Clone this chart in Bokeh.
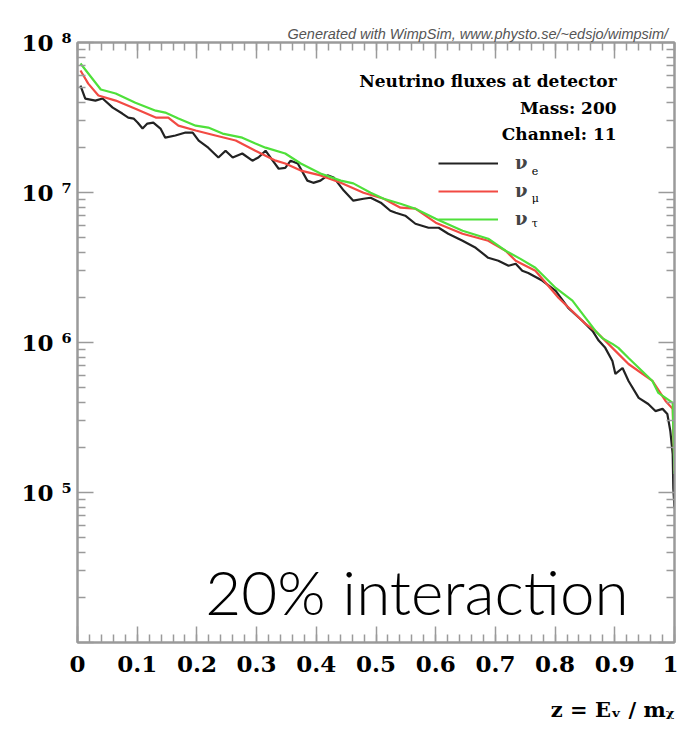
from bokeh.plotting import figure
from bokeh.models import (LinearAxis, LogAxis, FixedTicker, Label, Legend,
                          LegendItem, Range1d, Title)
from bokeh.embed import file_html
from bokeh.resources import INLINE

# WimpSim neutrino fluxes at the detector, mass 200, channel 11
z_e = [0.005, 0.013, 0.030, 0.042, 0.059, 0.075, 0.085, 0.094, 0.101, 0.109,
       0.117, 0.127, 0.139, 0.147, 0.164, 0.181, 0.193, 0.203, 0.219, 0.236,
       0.248, 0.260, 0.276, 0.293, 0.303, 0.315, 0.327, 0.337, 0.348, 0.357,
       0.369, 0.385, 0.395, 0.407, 0.419, 0.429, 0.446, 0.462, 0.479, 0.491,
       0.508, 0.524, 0.533, 0.549, 0.566, 0.588, 0.605, 0.621, 0.645, 0.667,
       0.688, 0.705, 0.722, 0.734, 0.745, 0.755, 0.779, 0.801, 0.822, 0.846,
       0.863, 0.873, 0.884, 0.896, 0.901, 0.913, 0.923, 0.940, 0.956, 0.968,
       0.980, 0.988, 0.993, 0.997, 0.998, 1.000]
flux_e = [5.16e7, 4.23e7, 4.10e7, 4.23e7, 3.68e7, 3.36e7, 3.16e7, 3.11e7, 2.92e7, 2.67e7,
          2.88e7, 2.92e7, 2.67e7, 2.32e7, 2.40e7, 2.51e7, 2.51e7, 2.22e7, 1.99e7, 1.71e7,
          1.90e7, 1.71e7, 1.82e7, 1.63e7, 1.71e7, 1.90e7, 1.63e7, 1.44e7, 1.46e7, 1.63e7,
          1.56e7, 1.20e7, 1.16e7, 1.20e7, 1.30e7, 1.26e7, 1.03e7, 8.82e6, 9.09e6, 9.23e6,
          8.55e6, 7.56e6, 7.33e6, 7.00e6, 6.19e6, 5.82e6, 5.82e6, 5.31e6, 4.77e6, 4.28e6,
          3.67e6, 3.51e6, 3.25e6, 3.35e6, 3.01e6, 2.91e6, 2.58e6, 2.21e6, 1.70e6, 1.39e6,
          1.19e6, 1.03e6, 9.21e5, 7.53e5, 6.17e5, 6.76e5, 5.54e5, 4.27e5, 3.89e5, 3.49e5,
          3.61e5, 3.34e5, 2.57e5, 1.80e5, 1.07e5, 7.87e4]

z_mu = [0.005, 0.018, 0.035, 0.064, 0.097, 0.131, 0.152, 0.169, 0.198, 0.231,
        0.265, 0.298, 0.332, 0.348, 0.374, 0.407, 0.441, 0.479, 0.513, 0.541,
        0.566, 0.600, 0.645, 0.688, 0.717, 0.734, 0.767, 0.806, 0.851, 0.868,
        0.906, 0.923, 0.963, 0.985, 0.997, 1.000]
flux_mu = [6.51e7, 5.32e7, 4.43e7, 4.10e7, 3.62e7, 3.16e7, 3.16e7, 2.79e7, 2.59e7, 2.40e7,
           2.22e7, 1.90e7, 1.63e7, 1.56e7, 1.40e7, 1.30e7, 1.16e7, 9.97e6, 9.09e6, 7.92e6,
           7.80e6, 6.29e6, 5.31e6, 4.77e6, 4.09e6, 3.51e6, 3.01e6, 1.98e6, 1.33e6, 1.19e6,
           8.40e5, 7.19e5, 5.54e5, 4.08e5, 3.61e5, 1.39e5]

z_tau = [0.005, 0.039, 0.064, 0.097, 0.131, 0.147, 0.169, 0.198, 0.219, 0.243,
         0.276, 0.298, 0.315, 0.348, 0.374, 0.407, 0.441, 0.462, 0.491, 0.513,
         0.541, 0.566, 0.600, 0.645, 0.688, 0.717, 0.742, 0.767, 0.801, 0.829,
         0.851, 0.868, 0.879, 0.896, 0.906, 0.923, 0.963, 0.973, 0.997, 0.998, 1.000]
flux_tau = [7.24e7, 4.86e7, 4.57e7, 3.97e7, 3.51e7, 3.41e7, 3.11e7, 2.79e7, 2.71e7, 2.47e7,
            2.32e7, 2.12e7, 1.99e7, 1.82e7, 1.56e7, 1.34e7, 1.20e7, 1.15e7, 9.97e6, 9.09e6,
            8.42e6, 7.80e6, 6.69e6, 5.56e6, 4.92e6, 4.09e6, 3.61e6, 3.15e6, 2.31e6, 1.90e6,
            1.46e6, 1.19e6, 1.07e6, 9.79e5, 9.21e5, 7.89e5, 5.54e5, 4.61e5, 3.96e5, 2.57e5, 1.33e5]

x_ticks = [0.0, 0.1, 0.2, 0.3, 0.4, 0.5, 0.6, 0.7, 0.8, 0.9, 1.0]
x_tick_labels = ["0", "0.1", "0.2", "0.3", "0.4", "0.5", "0.6", "0.7", "0.8", "0.9", "1"]
y_ticks = [1e4, 1e5, 1e6, 1e7, 1e8]
y_tick_labels = ["", "10 ⁵", "10 ⁶", "10 ⁷", "10 ⁸"]

series_names = ["ν", "ν", "ν"]
series_subs = ["e", "μ", "τ"]
series_colors = ["#222222", "#f24a43", "#4fe03a"]

FRAME = "#9a9a9a"
SERIF = "DejaVu Serif"

p = figure(width=678, height=741,
           x_range=Range1d(0, 1), y_range=Range1d(1e4, 1e8),
           y_axis_type="log", output_backend="svg", toolbar_location=None,
           min_border_left=77, min_border_right=4,
           min_border_top=42, min_border_bottom=99)
p.xgrid.visible = False
p.ygrid.visible = False
p.outline_line_color = FRAME
p.outline_line_width = 2
p.background_fill_color = "white"
p.border_fill_color = "white"

# credit line above the frame, right of centre
p.title.text = "Generated with WimpSim, www.physto.se/~edsjo/wimpsim/"
p.title.align = "left"
p.title.offset = 210
p.title.standoff = 1
p.title.text_font = "Liberation Sans"
p.title.text_font_style = "italic"
p.title.text_font_size = "14.5px"
p.title.text_color = "#555555"

x_ticker = FixedTicker(ticks=x_ticks, minor_ticks=[i / 50 for i in range(51)])
y_minor = [m * 10 ** e for e in range(4, 8) for m in range(2, 10)]
y_ticker = FixedTicker(ticks=y_ticks, minor_ticks=y_minor)


def style_axis(ax, ticks=None, labels=None):
    ax.axis_line_color = FRAME
    ax.axis_line_width = 2
    ax.major_tick_line_color = FRAME
    ax.minor_tick_line_color = FRAME
    ax.major_tick_line_width = 1.5
    ax.minor_tick_line_width = 1.5
    ax.major_tick_in = 16
    ax.major_tick_out = 0
    ax.minor_tick_in = 8
    ax.minor_tick_out = 0
    ax.major_label_text_font = SERIF
    ax.major_label_text_font_style = "bold"
    ax.major_label_text_font_size = "23px"
    ax.major_label_text_color = "black"
    if labels is None:
        # mirrored axis: ticks only
        ax.major_label_overrides = {t: "" for t in ticks}
        ax.major_label_standoff = 0
    else:
        ax.major_label_overrides = dict(zip(ticks, labels))


xb = p.xaxis[0]
xb.ticker = x_ticker
style_axis(xb, x_ticks, x_tick_labels)
xb.major_label_standoff = 13

yl = p.yaxis[0]
yl.ticker = y_ticker
style_axis(yl, y_ticks, y_tick_labels)
yl.major_label_standoff = 6

xt = LinearAxis(ticker=x_ticker)
style_axis(xt, x_ticks)
p.add_layout(xt, "above")
yr = LogAxis(ticker=y_ticker)
style_axis(yr, y_ticks)
p.add_layout(yr, "right")

# axis title, flush with the right end of the x axis
p.add_layout(Title(text="z = Eᵥ / mᵪ", align="right", standoff=40,
                   text_font=SERIF, text_font_style="bold",
                   text_font_size="21px", text_color="black"), "below")

renderers = []
for zs, fs, col in [(z_e, flux_e, series_colors[0]),
                    (z_mu, flux_mu, series_colors[1]),
                    (z_tau, flux_tau, series_colors[2])]:
    renderers.append(p.line(zs, fs, line_color=col, line_width=2.2))

legend = Legend(items=[LegendItem(label=n, renderers=[r])
                       for n, r in zip(series_names, renderers)],
                location=(361, 413), orientation="vertical",
                glyph_width=60, glyph_height=20, label_height=20,
                label_standoff=17, spacing=7, padding=0, margin=0,
                border_line_alpha=0, background_fill_alpha=0,
                label_text_font=SERIF, label_text_font_style="bold",
                label_text_font_size="18px")
p.add_layout(legend)

# flavour subscripts next to the legend symbols
for sub, yv in zip(series_subs, [1.40e7, 9.09e6, 6.19e6]):
    p.add_layout(Label(x=0.761, y=yv, text=sub, text_font=SERIF,
                       text_font_size="11px", text_baseline="middle",
                       text_color="black"))

# header block
for txt, yv in [("Neutrino fluxes at detector", 5.57e7),
                ("Mass: 200", 3.68e7),
                ("Channel: 11", 2.47e7)]:
    p.add_layout(Label(x=0.903, y=yv, text=txt, text_font=SERIF,
                       text_font_style="bold", text_font_size="17px",
                       text_align="right", text_baseline="middle",
                       text_color="black"))

p.add_layout(Label(x=0.214, y=2.22e4, text="20% interaction",
                   text_font="'Lato Light', Lato", text_font_size="62px",
                   text_baseline="alphabetic", text_color="black"))

open("out.html", "w").write(file_html(p, INLINE))
